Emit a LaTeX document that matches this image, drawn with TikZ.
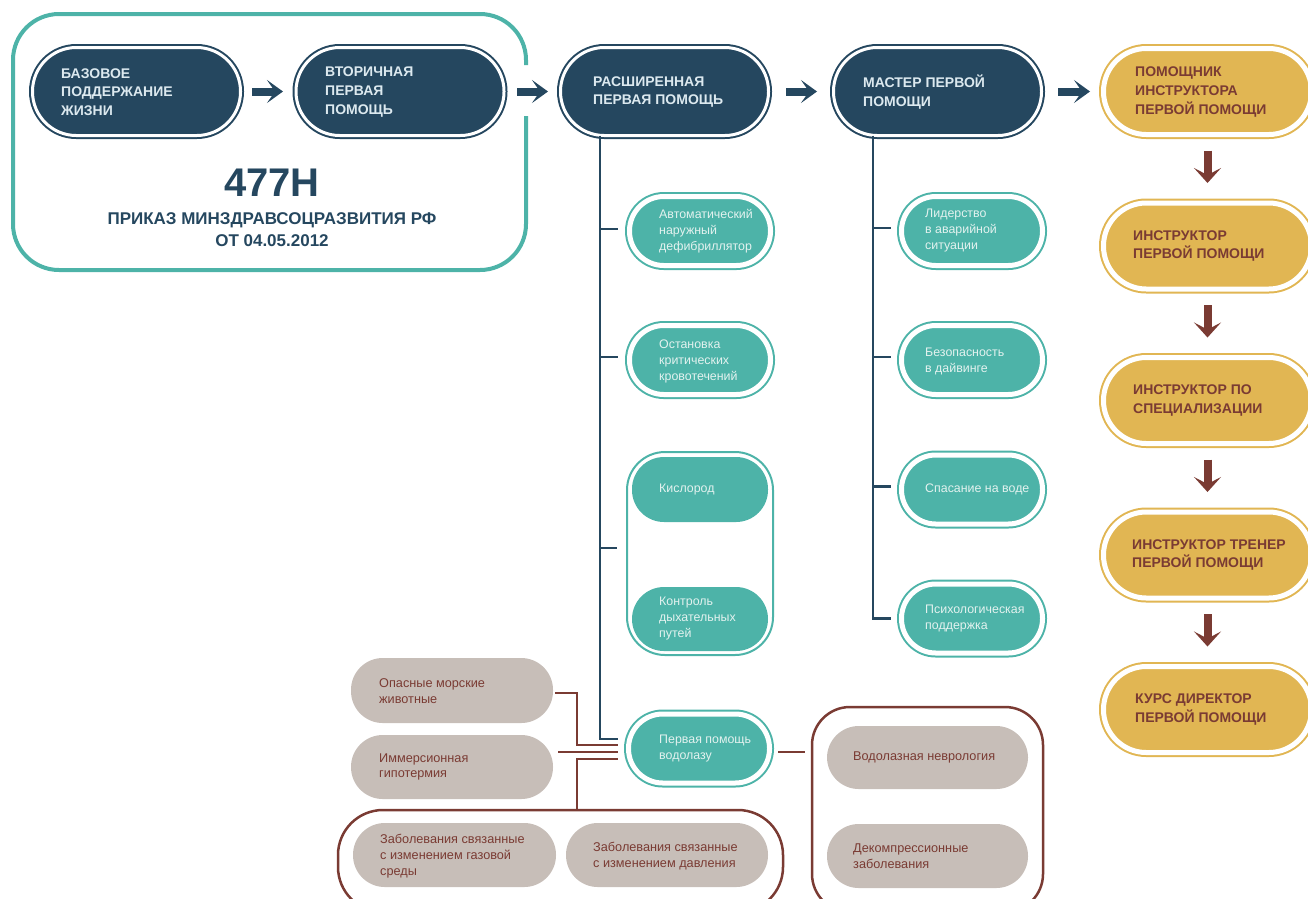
\documentclass[tikz,border=0pt]{standalone}
\usepackage{fontspec}
\setmainfont{Liberation Sans}
\usetikzlibrary{arrows.meta}
\definecolor{navy}{HTML}{25475F}
\definecolor{teal}{HTML}{4DB3A8}
\definecolor{yel}{HTML}{E1B653}
\definecolor{brn}{HTML}{7A3B33}
\definecolor{beige}{HTML}{C7BEB8}
\definecolor{hdrtext}{HTML}{DCE9EF}
\definecolor{tealtext}{HTML}{E3F2EF}
\begin{document}
\begin{tikzpicture}[x=1pt,y=-1pt,
  pillbase/.style={rectangle, outer sep=0pt, inner sep=0pt},
  darkpill/.style={pillbase, fill=navy, draw=navy, line width=2, double=white, double distance=3, minimum width=208, minimum height=88, rounded corners=43.8},
  yelpill/.style={pillbase, fill=yel, draw=yel, line width=2, double=white, double distance=5, minimum width=208, minimum height=86, rounded corners=42.8},
  tealpill/.style={pillbase, fill=teal, draw=teal, line width=2, double=white, double distance=5, minimum width=141, minimum height=69, rounded corners=34.3},
  tealfill/.style={pillbase, fill=teal, minimum width=136, rounded corners=32},
  beigepill/.style={pillbase, fill=beige, minimum width=202, minimum height=64, rounded corners=31.8},
  hdr/.style={inner sep=0pt, anchor=west, align=left, text=hdrtext, font=\bfseries\fontsize{14}{18.5}\selectfont},
  ytxt/.style={hdr, text=brn},
  small/.style={inner sep=0pt, anchor=west, align=left, text=tealtext, font=\fontsize{12.4}{16}\selectfont},
  btxt/.style={inner sep=0pt, anchor=west, align=left, text=brn, font=\fontsize{12.7}{15.7}\selectfont},
  navyarrow/.style={draw=navy, line width=8, -{Stealth[length=16, width=23, inset=8]}},
  brnarrow/.style={draw=brn, line width=8, -{Stealth[length=15, width=27, inset=7]}},
  navyline/.style={draw=navy, line width=2.5},
  brnline/.style={draw=brn, line width=2.5},
]
\useasboundingbox (0,0) rectangle (1308,898);
\clip (0,0) rectangle (1308,898);

% teal frame with gap for the arrow
\draw[teal, line width=4, rounded corners=46] (526,116) -- (526,270) -- (13,270) -- (13,14) -- (526,14) -- (526,65);

% top row
\node[darkpill] (n1) at (136.5,91.5) {};
\node[darkpill] (n2) at (400,91.5) {};
\node[darkpill] (n3) at (664.5,91.5) {};
\node[darkpill] (n4) at (937.5,91.5) {};
\node[hdr] (n1t) at (61,92) {БАЗОВОЕ\\ПОДДЕРЖАНИЕ\\ЖИЗНИ};
\node[hdr] (n2t) at (325,92) {ВТОРИЧНАЯ\\ПЕРВАЯ\\ПОМОЩЬ};
\node[hdr] (n3t) at (593,92) {РАСШИРЕННАЯ\\ПЕРВАЯ ПОМОЩЬ};
\node[hdr] (n4t) at (863,92) {МАСТЕР ПЕРВОЙ\\ПОМОЩИ};

\node[font=\bfseries\fontsize{40}{40}\selectfont, text=navy, inner sep=0pt] (num) at (272,183) {477Н};
\node[font=\bfseries\fontsize{17}{22}\selectfont, text=navy, align=center, inner sep=0pt] (ord) at (272,230) {ПРИКАЗ МИНЗДРАВСОЦРАЗВИТИЯ РФ\\ОТ 04.05.2012};

% yellow column
\node[yelpill] (y1) at (1207.5,91.5) {};
\node[yelpill] (y2) at (1207.5,246) {};
\node[yelpill] (y3) at (1207.5,400.5) {};
\node[yelpill] (y4) at (1207.5,555) {};
\node[yelpill] (y5) at (1207.5,709.5) {};
\node[ytxt] (y1t) at (1135,92) {ПОМОЩНИК\\ИНСТРУКТОРА\\ПЕРВОЙ~ПОМОЩИ};
\node[ytxt] (y2t) at (1133,246) {ИНСТРУКТОР\\ПЕРВОЙ~ПОМОЩИ};
\node[ytxt] (y3t) at (1133,400.5) {ИНСТРУКТОР~ПО\\СПЕЦИАЛИЗАЦИИ};
\node[ytxt] (y4t) at (1132,555) {ИНСТРУКТОР~ТРЕНЕР\\ПЕРВОЙ~ПОМОЩИ};
\node[ytxt] (y5t) at (1135,709.5) {КУРС~ДИРЕКТОР\\ПЕРВОЙ~ПОМОЩИ};

% arrows
\draw[navyarrow, shorten <=11.5, shorten >=13] (n1.east) -- (n2.west);
\draw[navyarrow, shorten <=13, shorten >=12.5] (n2.east) -- (n3.west);
\draw[navyarrow, shorten <=17.5, shorten >=16.5] (n3.east) -- (n4.west);
\draw[navyarrow, shorten <=16.5, shorten >=13.5] (n4.east) -- (y1.west);
\draw[brnarrow, shorten <=16, shorten >=20] (y1.south) -- (y2.north);
\draw[brnarrow, shorten <=16, shorten >=20] (y2.south) -- (y3.north);
\draw[brnarrow, shorten <=16, shorten >=20] (y3.south) -- (y4.north);
\draw[brnarrow, shorten <=16, shorten >=20] (y4.south) -- (y5.north);

% column under n3
\node[tealpill] (a1) at (700,231) {};
\node[tealpill] (a2) at (700,360) {};
\node[pillbase, draw=teal, line width=2, minimum width=146, minimum height=203, rounded corners=38] (g) at (700,553.5) {};
\node[tealfill, minimum height=65] (k) at (700,489.5) {};
\node[tealfill, minimum height=64] (c) at (700,619) {};
\node[tealpill] (d) at (699,748.5) {};
\node[small] (a1t) at (659,231) {Автоматический\\наружный\\дефибриллятор};
\node[small] (a2t) at (659,361) {Остановка\\критических\\кровотечений};
\node[small] (kt) at (659,490) {Кислород};
\node[small] (ct) at (659,619) {Контроль\\дыхательных\\путей};
\node[small] (dt) at (659,749) {Первая помощь\\водолазу};

\coordinate (s3) at (600,0);
\draw[navyline] (n3.south -| s3) |- ([shift={(-11,-9.5)}]d.west);
\draw[navyline] ([shift={(0,-2)}]s3 |- a1.west) -- ([shift={(-12,-2)}]a1.west);
\draw[navyline] ([shift={(0,-3)}]s3 |- a2.west) -- ([shift={(-12,-3)}]a2.west);
\draw[navyline] ([shift={(0,-5.5)}]s3 |- g.west) -- ([shift={(-10,-5.5)}]g.west);

% column under n4
\node[tealpill] (b1) at (972,231) {};
\node[tealpill] (b2) at (972,360) {};
\node[tealpill] (b3) at (972,489.5) {};
\node[tealpill] (b4) at (972,618.5) {};
\node[small] (b1t) at (925,231) {Лидерство\\в аварийной\\ситуации};
\node[small] (b2t) at (925,361) {Безопасность\\в дайвинге};
\node[small] (b3t) at (925,489.5) {Спасание на воде};
\node[small] (b4t) at (925,619) {Психологическая\\поддержка};

\coordinate (s4) at (873,0);
\draw[navyline] (n4.south -| s4) |- ([xshift=-11]b4.west);
\draw[navyline] ([shift={(0,-3)}]s4 |- b1.west) -- ([shift={(-11,-3)}]b1.west);
\draw[navyline] ([shift={(0,-3)}]s4 |- b2.west) -- ([shift={(-11,-3)}]b2.west);
\draw[navyline] ([shift={(0,-3)}]s4 |- b3.west) -- ([shift={(-11,-3)}]b3.west);

% brown groups
\node[pillbase, draw=brn, line width=2.5, minimum width=445, minimum height=102, rounded corners=45] (gl) at (560.5,861) {};
\node[pillbase, draw=brn, line width=2.5, minimum width=231, minimum height=205, rounded corners=38] (gr) at (927.5,809.5) {};

\node[beigepill, minimum height=65] (o) at (452,690.5) {};
\node[beigepill] (i) at (452,767) {};
\node[beigepill, minimum width=203] (gg) at (454.5,855) {};
\node[beigepill] (gd) at (667,855) {};
\node[beigepill, minimum width=201, minimum height=63] (vn) at (927.5,757.5) {};
\node[beigepill, minimum width=201] (dk) at (927.5,856) {};

\node[btxt] (ot) at (379,691) {Опасные морские\\животные};
\node[btxt] (it) at (379,767) {Иммерсионная\\гипотермия};
\node[btxt] (ggt) at (380,856) {Заболевания связанные\\с изменением газовой\\среды};
\node[btxt] (gdt) at (593,856) {Заболевания связанные\\с изменением давления};
\node[btxt] (vnt) at (853,757.5) {Водолазная неврология};
\node[btxt] (dkt) at (853,856) {Декомпрессионные\\заболевания};

% brown connectors
\coordinate (bj) at (577,0);
\draw[brnline] ([shift={(2,2.5)}]o.east) -| (bj |- 0,745) -- ([shift={(-11,-3.5)}]d.west);
\draw[brnline] ([shift={(5,-15)}]i.east) -- ([shift={(-11,3.5)}]d.west);
\draw[brnline] ([shift={(-11,10.5)}]d.west) -| (bj |- gl.north);
\draw[brnline] ([shift={(8.5,3.5)}]d.east) -- ([shift={(-7,-57.5)}]gr.west);
\end{tikzpicture}
\end{document}
